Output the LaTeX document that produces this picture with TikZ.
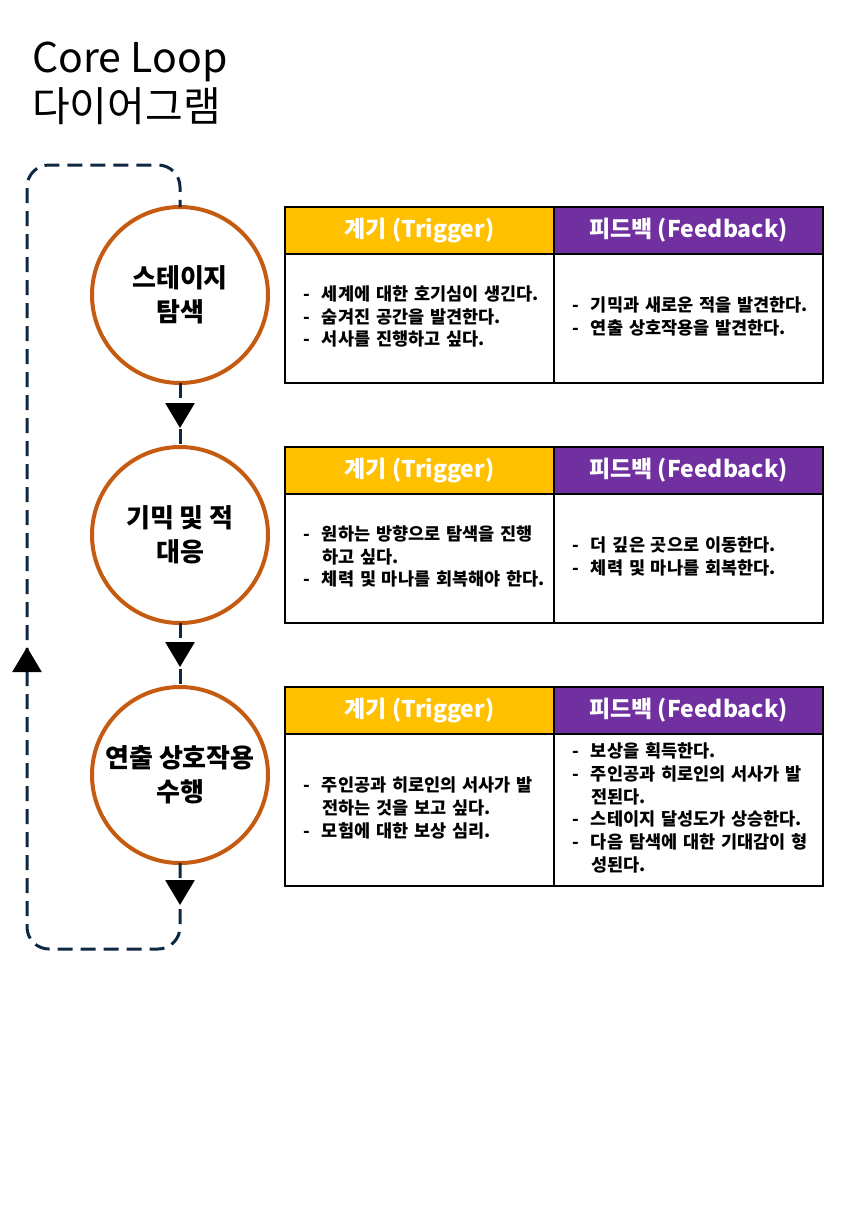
\documentclass[tikz,border=0pt]{standalone}
\usepackage{fontspec}
\setmainfont{Noto Sans CJK KR}
\usetikzlibrary{positioning,arrows.meta,decorations.markings}
\definecolor{stageorange}{HTML}{C55A11}
\definecolor{trigyellow}{HTML}{FFC000}
\definecolor{fbpurple}{HTML}{7030A0}
\definecolor{loopnavy}{HTML}{0E2841}
\newcommand{\bul}{\makebox[19pt][l]{-}}

\begin{document}
\begin{tikzpicture}[x=1pt, y=-1pt, node distance=64pt,
  stage/.style={draw=stageorange, line width=4pt, circle, minimum size=176pt, outer sep=0pt, align=center, font=\fontsize{26}{34}\selectfont\bfseries},
  head/.style={draw, line width=1.5pt, minimum width=269pt, minimum height=47pt, outer sep=0pt, text=white, font=\fontsize{23}{27}\selectfont\bfseries},
  cell/.style={draw, line width=1.5pt, minimum width=269pt, text width=233pt, inner xsep=18pt, outer sep=0pt, align=left, font=\fontsize{17.5}{22.7}\selectfont\bfseries},
  flow/.style={draw=loopnavy, line width=3pt, dash pattern=on 15pt off 8pt},
  midtip/.style={postaction={decorate, decoration={markings, mark=at position #1 with {\arrow[black, solid]{Triangle[width=29pt, length=25pt]}}}}}
]
  \useasboundingbox (0,0) rectangle (850,1228);

  \node[anchor=north west, align=left, inner sep=0pt, font=\fontsize{41}{49}\selectfont] (title) at (32,42) {Core Loop\\다이어그램};

  % stages
  \node[stage] (c1) at (180,295) {스테이지\\탐색};
  \node[stage, below=of c1] (c2) {기믹 및 적\\대응};
  \node[stage, below=of c2] (c3) {연출 상호작용\\수행};

  % tables
  \node[head, fill=trigyellow, anchor=north west] (trig1) at ([xshift=105pt]c1.north) {계기 (Trigger)};
  \node[head, fill=fbpurple, right=0pt of trig1] (fb1) {피드백 (Feedback)};
  \node[cell, minimum height=129pt, below=0pt of trig1] (trigtext1) {\begin{tabular}{@{}l@{}l@{}}
    \bul & 세계에 대한 호기심이 생긴다.\\
    \bul & 숨겨진 공간을 발견한다.\\
    \bul & 서사를 진행하고 싶다.
  \end{tabular}};
  \node[cell, minimum height=129pt, below=0pt of fb1] (fbtext1) {\begin{tabular}{@{}l@{}l@{}}
    \bul & 기믹과 새로운 적을 발견한다.\\
    \bul & 연출 상호작용을 발견한다.
  \end{tabular}};

  \node[head, fill=trigyellow, anchor=north west] (trig2) at ([xshift=105pt]c2.north) {계기 (Trigger)};
  \node[head, fill=fbpurple, right=0pt of trig2] (fb2) {피드백 (Feedback)};
  \node[cell, minimum height=129pt, below=0pt of trig2] (trigtext2) {\begin{tabular}{@{}l@{}l@{}}
    \bul & 원하는 방향으로 탐색을 진행\\
         & 하고 싶다.\\
    \bul & 체력 및 마나를 회복해야 한다.
  \end{tabular}};
  \node[cell, minimum height=129pt, below=0pt of fb2] (fbtext2) {\begin{tabular}{@{}l@{}l@{}}
    \bul & 더 깊은 곳으로 이동한다.\\
    \bul & 체력 및 마나를 회복한다.
  \end{tabular}};

  \node[head, fill=trigyellow, anchor=north west] (trig3) at ([xshift=105pt]c3.north) {계기 (Trigger)};
  \node[head, fill=fbpurple, right=0pt of trig3] (fb3) {피드백 (Feedback)};
  \node[cell, minimum height=152pt, below=0pt of trig3] (trigtext3) {\begin{tabular}{@{}l@{}l@{}}
    \bul & 주인공과 히로인의 서사가 발\\
         & 전하는 것을 보고 싶다.\\
    \bul & 모험에 대한 보상 심리.
  \end{tabular}};
  \node[cell, minimum height=152pt, below=0pt of fb3] (fbtext3) {\begin{tabular}{@{}l@{}l@{}}
    \bul & 보상을 획득한다.\\
    \bul & 주인공과 히로인의 서사가 발\\
         & 전된다.\\
    \bul & 스테이지 달성도가 상승한다.\\
    \bul & 다음 탐색에 대한 기대감이 형\\
         & 성된다.
  \end{tabular}};

  % loop
  \coordinate (loopbr) at (180,949);
  \coordinate (loopbl) at (27,949);
  \coordinate (looptl) at (27,165);
  \coordinate (looptr) at (180,165);

  \draw[flow, midtip=45pt] (c1) -- (c2);
  \draw[flow, midtip=44pt] (c2) -- (c3);
  \draw[flow, rounded corners=22pt, midtip=42pt, midtip=522pt] (c3) -- (loopbr) -- (loopbl) -- (looptl) -- (looptr) -- (c1);
\end{tikzpicture}
\end{document}
